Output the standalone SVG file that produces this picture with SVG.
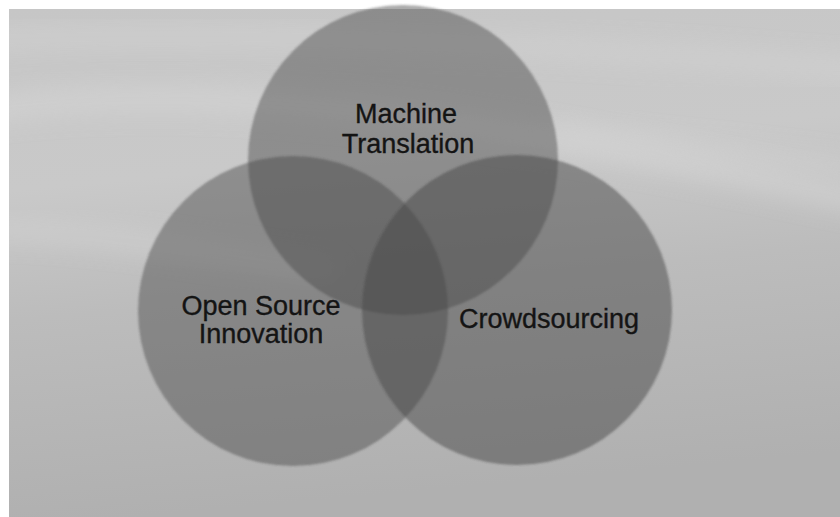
<svg xmlns="http://www.w3.org/2000/svg" width="840" height="517" viewBox="0 0 840 517">
  <defs>
    <linearGradient id="bg" x1="0" y1="0" x2="0.15" y2="1">
      <stop offset="0" stop-color="#c6c6c6"/>
      <stop offset="0.35" stop-color="#c9c9c9"/>
      <stop offset="0.6" stop-color="#bcbcbc"/>
      <stop offset="1" stop-color="#b0b0b0"/>
    </linearGradient>
    <clipPath id="bgclip">
      <rect x="9" y="9" width="831" height="508"/>
    </clipPath>
    <filter id="soft" x="-50%" y="-50%" width="200%" height="200%">
      <feGaussianBlur stdDeviation="12"/>
    </filter>
    <filter id="edge" x="-5%" y="-5%" width="110%" height="110%">
      <feGaussianBlur stdDeviation="0.8"/>
    </filter>
    <style>
      .circle { fill: #454545; filter: url(#edge); }
      .label { font-family: "Liberation Sans", Arial, sans-serif; font-size: 27px; fill: #141414; stroke: #141414; stroke-width: 0.35; text-anchor: middle; }
      .streak { fill: none; stroke: #d6d6d6; stroke-linecap: round; filter: url(#soft); }
    </style>
  </defs>
  <rect x="0" y="0" width="840" height="517" fill="#ffffff"/>
  <rect x="9" y="9" width="831" height="508" fill="url(#bg)"/>
  <g opacity="0.7" clip-path="url(#bgclip)">
    <path class="streak" d="M -20 110 C 200 80, 450 110, 860 200" stroke-width="22"/>
    <path class="streak" d="M -20 40 C 200 30, 500 40, 860 70" stroke-width="14"/>
    <path class="streak" d="M 560 130 C 650 150, 740 150, 860 170" stroke-width="12"/>
    <path class="streak" d="M -20 230 C 100 230, 250 260, 330 270" stroke-width="14"/>
  </g>
  <g id="node-machine-translation">
    <circle class="circle" cx="403" cy="160" r="155" fill-opacity="0.45"/>
    <text class="label" x="406" y="123">Machine</text>
    <text class="label" x="408" y="153">Translation</text>
  </g>
  <g id="node-open-source-innovation">
    <circle class="circle" cx="293" cy="311" r="155" fill-opacity="0.45"/>
    <text class="label" x="261" y="315">Open Source</text>
    <text class="label" x="261" y="343">Innovation</text>
  </g>
  <g id="node-crowdsourcing">
    <circle class="circle" cx="517" cy="310" r="155" fill-opacity="0.5"/>
    <text class="label" x="549" y="328">Crowdsourcing</text>
  </g>
  <g id="connectors"/>
</svg>
